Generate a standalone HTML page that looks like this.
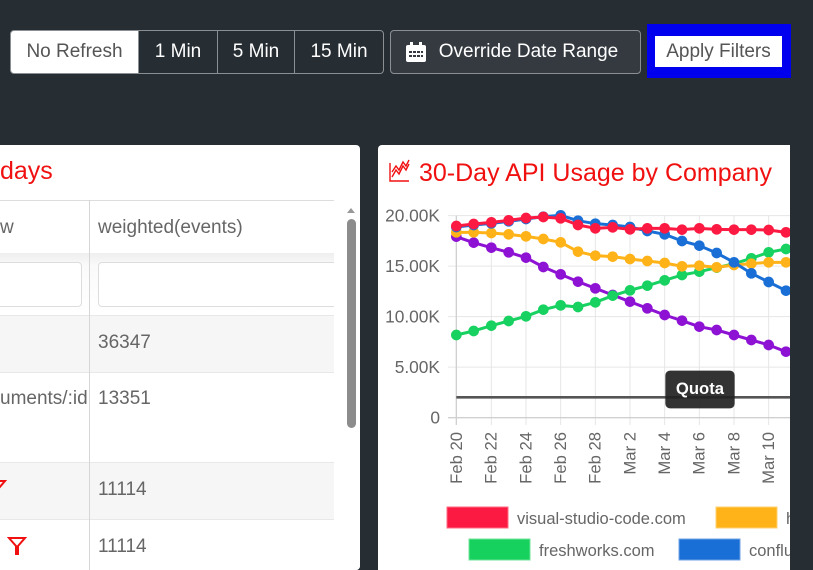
<!DOCTYPE html>
<html style="width:813px;height:570px;overflow:hidden"><head><meta charset="utf-8"><style>
*{margin:0;padding:0;box-sizing:border-box}
body{width:813px;height:570px;background:#262d33;position:relative;overflow:hidden;font-family:"Liberation Sans",sans-serif}
.btn{position:absolute;top:30px;height:44px;border:1px solid #8a8f94;color:#fff;font-size:19px;line-height:42px;text-align:center;background:#262d33}
.card{position:absolute;background:#fff;top:145px;height:425px}
.t{position:absolute;color:#666;font-size:19px;white-space:nowrap}
</style></head><body>
<div class="btn" style="left:10px;width:129px;background:#fff;color:#555;border-radius:4px 0 0 4px">No Refresh</div>
<div class="btn" style="left:138px;width:80px">1 Min</div>
<div class="btn" style="left:217px;width:78px">5 Min</div>
<div class="btn" style="left:294px;width:90px;border-radius:0 4px 4px 0">15 Min</div>
<div class="btn" style="left:390px;width:251px;background:#343a40;border-radius:4px;padding-left:26px">Override Date Range</div>
<svg style="position:absolute;left:405px;top:41px" width="22" height="22" viewBox="0 0 22 22"><rect x="1" y="4" width="20" height="17" rx="2" fill="#fff"/><rect x="5" y="1" width="3" height="5" fill="#fff"/><rect x="14" y="1" width="3" height="5" fill="#fff"/><g fill="#343a40"><rect x="4" y="10" width="3" height="2"/><rect x="8" y="10" width="3" height="2"/><rect x="12" y="10" width="3" height="2"/><rect x="16" y="10" width="2" height="2"/><rect x="4" y="14" width="3" height="2"/><rect x="8" y="14" width="3" height="2"/><rect x="12" y="14" width="3" height="2"/><rect x="16" y="14" width="2" height="2"/></g></svg>
<div style="position:absolute;left:647px;top:24px;width:144px;height:54px;background:#0000ee"></div>
<div style="position:absolute;left:655px;top:36px;width:127px;height:31px;background:#fff;color:#555;font-size:19px;line-height:31px;text-align:center">Apply Filters</div>

<div class="card" style="left:-10px;width:370px;border-radius:4px;overflow:hidden">
<div style="position:absolute;left:10px;top:12px;color:#f01010;font-size:25px">days</div>
<div style="position:absolute;left:10px;top:55px;width:334px;height:1px;background:#ddd"></div>
<div class="t" style="left:10px;top:72px">w</div>
<div class="t" style="left:108px;top:72px">weighted(events)</div>
<div style="position:absolute;left:10px;top:108px;width:334px;height:62px;background:linear-gradient(#eee,#fafafa 20%,#fff)"></div>
<div style="position:absolute;left:0;top:117px;width:92px;height:45px;border:1px solid #ddd;border-radius:4px;background:#fff"></div>
<div style="position:absolute;left:108px;top:117px;width:239px;height:45px;border:1px solid #ddd;border-radius:4px;background:#fff"></div>
<div style="position:absolute;left:10px;top:170px;width:334px;height:57px;background:#f6f6f6;border-top:1px solid #e8e8e8"></div>
<div style="position:absolute;left:10px;top:227px;width:334px;height:1px;background:#e8e8e8"></div>
<div style="position:absolute;left:10px;top:317px;width:334px;height:57px;background:#f6f6f6;border-top:1px solid #e8e8e8"></div>
<div style="position:absolute;left:10px;top:374px;width:334px;height:1px;background:#e8e8e8"></div>
<div class="t" style="left:108px;top:187px">36347</div>
<div style="position:absolute;left:0;top:243px;width:99px;height:30px;overflow:hidden"><div class="t" style="left:10px;top:0">uments/:id</div></div>
<div class="t" style="left:108px;top:243px">13351</div>
<div class="t" style="left:108px;top:334px">11114</div>
<div class="t" style="left:108px;top:391px">11114</div>
<div style="position:absolute;left:99px;top:55px;width:1px;height:380px;background:#d6d6d6"></div>
<svg style="position:absolute;left:0;top:332px" width="20" height="20"><path d="M1 4 H15 L9 11 V18 H7 V11 Z" fill="none" stroke="#f01010" stroke-width="2"/></svg>
<svg style="position:absolute;left:17px;top:390px" width="22" height="22"><path d="M2 3 H18 L11 11 V19 H9 V11 Z" fill="none" stroke="#f01010" stroke-width="2"/></svg>
<div style="position:absolute;left:344px;top:55px;width:26px;height:380px;background:#fff"></div>
<div style="position:absolute;left:357px;top:63px;width:0;height:0;border:4px solid transparent;border-bottom:5px solid #999;border-top:0"></div>
<div style="position:absolute;left:357px;top:74px;width:9px;height:209px;background:#8c8c8c;border-radius:5px"></div>
</div>

<div class="card" style="left:378px;width:412px;border-radius:4px 0 0 0;overflow:hidden">
<svg width="412" height="425" viewBox="0 0 412 425" style="position:absolute;left:0;top:0">
<g fill="none" stroke="#f01010" stroke-width="1.4"><path d="M12 18 V36 H31"/><path d="M14 32 L18 25 L21 29 L25 21 L28 25 L31 19"/><path d="M14 27 L18 21 L21 25 L25 17 L28 21 L31 15"/></g>
<text x="41" y="36" font-size="25" fill="#f01010" font-family="Liberation Sans">30-Day API Usage by Company</text>
<g transform="scale(0.33333)" font-family="Liberation Sans">
<g stroke="#e6e6e6" stroke-width="3">
<line x1="210" x2="1236" y1="212" y2="212"/><line x1="210" x2="1236" y1="363.5" y2="363.5"/><line x1="210" x2="1236" y1="515" y2="515"/><line x1="210" x2="1236" y1="666.5" y2="666.5"/>
<line x1="340" x2="340" y1="212" y2="840"/><line x1="444" x2="444" y1="212" y2="840"/><line x1="548" x2="548" y1="212" y2="840"/><line x1="652" x2="652" y1="212" y2="840"/><line x1="756" x2="756" y1="212" y2="840"/><line x1="860" x2="860" y1="212" y2="840"/><line x1="964" x2="964" y1="212" y2="840"/><line x1="1068" x2="1068" y1="212" y2="840"/><line x1="1172" x2="1172" y1="212" y2="840"/>
</g>
<line x1="210" x2="1236" y1="818" y2="818" stroke="#d0d0d0" stroke-width="4"/>
<line x1="235" x2="235" y1="212" y2="840" stroke="#d0d0d0" stroke-width="4"/>
<g fill="#666" font-size="52" text-anchor="end">
<text x="186" y="230">20.00K</text><text x="186" y="381">15.00K</text><text x="186" y="533">10.00K</text><text x="186" y="684">5.00K</text><text x="186" y="836">0</text>
</g>
<g fill="#666" font-size="50" text-anchor="end">
<text transform="translate(252,861) rotate(-90)">Feb 20</text>
<text transform="translate(356,861) rotate(-90)">Feb 22</text>
<text transform="translate(460,861) rotate(-90)">Feb 24</text>
<text transform="translate(564,861) rotate(-90)">Feb 26</text>
<text transform="translate(668,861) rotate(-90)">Feb 28</text>
<text transform="translate(772,861) rotate(-90)">Mar 2</text>
<text transform="translate(876,861) rotate(-90)">Mar 4</text>
<text transform="translate(980,861) rotate(-90)">Mar 6</text>
<text transform="translate(1084,861) rotate(-90)">Mar 8</text>
<text transform="translate(1188,861) rotate(-90)">Mar 10</text>
</g>
<line x1="235" x2="1236" y1="757" y2="757" stroke="#555" stroke-width="8"/>
<g id="s" stroke-width="9" stroke-linejoin="round"></g>
<rect x="862" y="677" width="208" height="113" rx="14" fill="#222" opacity="0.92"/>
<text x="966" y="747" fill="#fff" font-size="50" font-weight="bold" text-anchor="middle">Quota</text>
</g>
<rect x="69" y="362" width="61" height="21" fill="#fd1a42" stroke="#ff6b80"/>
<text x="139" y="379" font-size="16.5" fill="#666" font-family="Liberation Sans">visual-studio-code.com</text>
<rect x="338" y="362" width="61" height="21" fill="#ffb319" stroke="#ffd070"/>
<text x="408" y="379" font-size="16.5" fill="#666" font-family="Liberation Sans">hubspot.com</text>
<rect x="91" y="394" width="61" height="21" fill="#16d15e" stroke="#70e39a"/>
<text x="161" y="411" font-size="16.5" fill="#666" font-family="Liberation Sans">freshworks.com</text>
<rect x="301" y="394" width="61" height="21" fill="#196fd6" stroke="#6fa3e6"/>
<text x="371" y="411" font-size="16.5" fill="#666" font-family="Liberation Sans">confluence.com</text>
</svg>
</div>
<script>
var X=[235,287,340,392,444,496,548,600,652,704,756,808,860,912,964,1016,1068,1120,1172,1224];
var S=[
["#8e12d4",[275,293,308,322,338,366,388,410,430,450,470,490,510,527,545,555,570,585,600,620]],
["#17d160",[570,558,542,528,514,494,481,486,472,452,436,422,406,390,380,368,356,340,322,312]],
["#ffb319",[262,262,264,268,274,282,292,320,332,335,342,348,354,364,362,367,360,356,352,352]],
["#1a6fd6",[246,240,235,229,222,215,211,227,236,240,246,258,268,288,302,324,352,385,411,437]],
["#fd1a42",[243,237,232,226,219,216,220,240,250,247,253,250,250,254,250,253,254,254,255,262]]];
var g=document.getElementById('s'),h='';
S.forEach(function(s){var p=X.map(function(x,i){return x+','+s[1][i]}).join(' ');
h+='<polyline points="'+p+'" fill="none" stroke="'+s[0]+'"/>';
X.forEach(function(x,i){h+='<circle cx="'+x+'" cy="'+s[1][i]+'" r="16" fill="'+s[0]+'"/>'});});
g.innerHTML=h;
</script>
</body></html>
